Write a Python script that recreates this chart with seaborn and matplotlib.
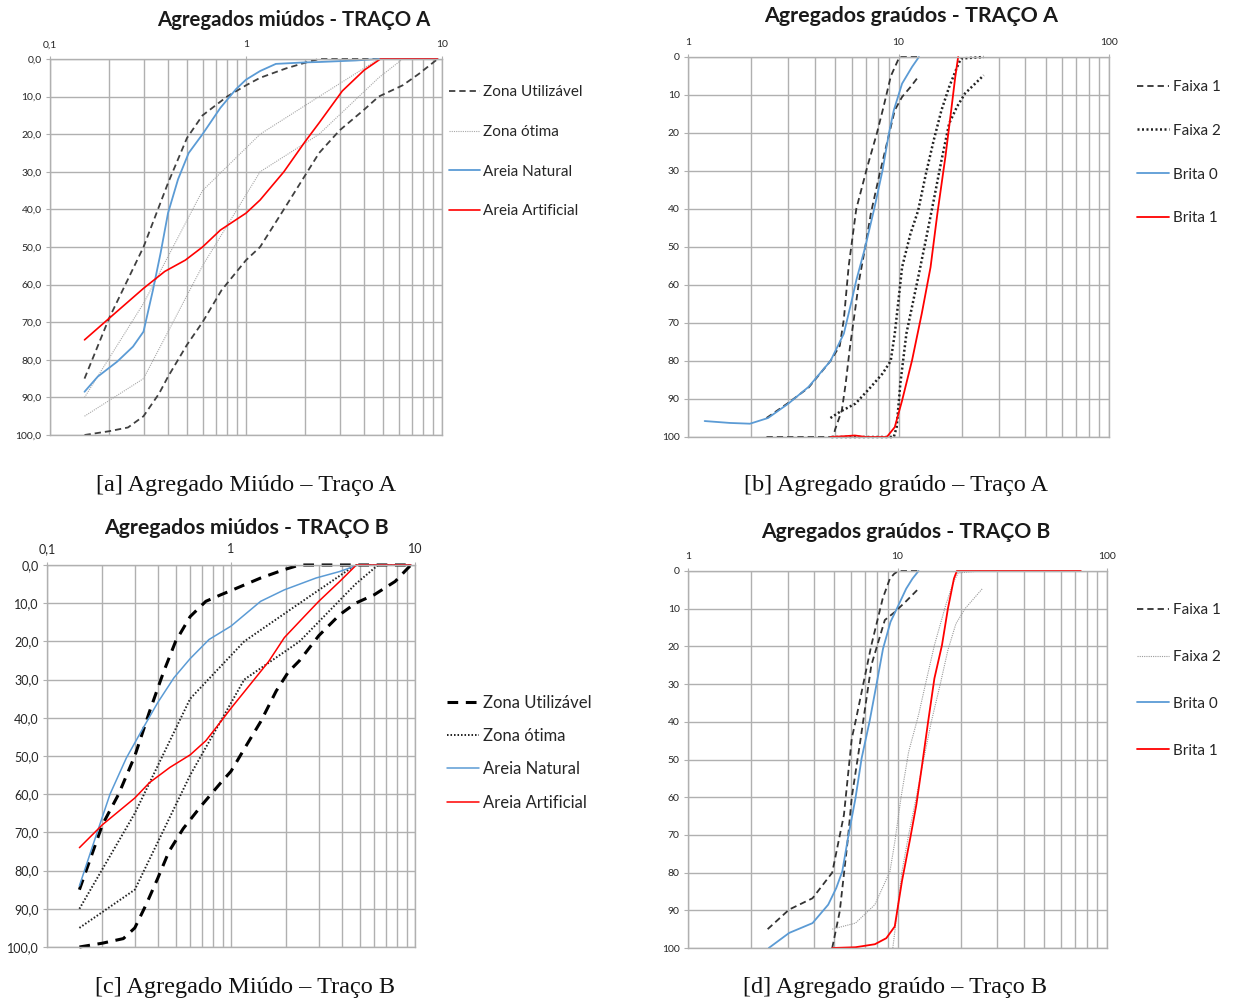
import numpy as np
import pandas as pd
import matplotlib
matplotlib.use("Agg")
import matplotlib.pyplot as plt
from matplotlib.ticker import FixedLocator, FixedFormatter, NullFormatter
import seaborn as sns

# ---------------- DATA ----------------
# Sieve openings (mm) - fine aggregate limits NBR 7211
SIEVES_F = [0.15, 0.3, 0.6, 1.18, 2.36, 4.75, 6.3, 9.5]
OTIMA_SUP = [90, 65, 35, 20, 10, 0, 0, 0]
OTIMA_INF = [95, 85, 55, 30, 20, 5, 0, 0]

# Traço A - miúdos
A_UTIL_INF_X = [0.15, 0.2, 0.3, 0.4, 0.5, 0.6, 0.8, 1.0, 1.18, 1.6, 2.0, 2.36, 4.75, 6.3, 9.5]
A_UTIL_INF_Y = [85, 69, 50, 33, 21, 15, 10, 7, 5, 2.5, 1, 0, 0, 0, 0]
A_UTIL_SUP_X = [0.15, 0.2, 0.25, 0.3, 0.36, 0.4, 0.5, 0.6, 0.75, 1.0, 1.18, 1.56, 2.0, 2.36, 3.0, 4.0, 4.75, 6.3, 7.6, 9.5]
A_UTIL_SUP_Y = [100, 99, 98, 95, 89, 84.5, 76, 70, 61.5, 53.5, 50, 40, 31, 25, 19, 13.5, 10, 7, 4, 0]
A_NAT_X = [0.15, 0.175, 0.22, 0.265, 0.3, 0.335, 0.367, 0.4, 0.45, 0.51, 0.6, 0.74, 0.89, 1.0, 1.18, 1.42, 2.0, 2.36, 3.6, 4.75, 6.3, 9.5]
A_NAT_Y = [88.5, 84.5, 80.5, 76.5, 72.5, 61.5, 51.5, 41, 32, 25, 20, 13, 8, 5.5, 3.2, 1.3, 0.9, 0.8, 0.4, 0, 0, 0]
A_ART_X = [0.15, 0.2, 0.3, 0.385, 0.49, 0.6, 0.74, 1.0, 1.18, 1.56, 2.0, 2.36, 3.1, 4.0, 4.85, 6.3, 9.5]
A_ART_Y = [74.7, 69, 61, 56.5, 53.5, 50, 45.5, 41, 37.5, 30, 22, 17, 8.5, 3, 0, 0, 0]

# Traço B - miúdos
B_UTIL_INF_X = [0.15, 0.2, 0.245, 0.3, 0.36, 0.43, 0.5, 0.6, 0.73, 0.88, 1.0, 1.45, 1.95, 2.36, 4.75, 6.3, 9.5]
B_UTIL_INF_Y = [85, 68, 60, 50, 38.5, 28, 20, 13.5, 9.5, 7.8, 6.7, 3.4, 1.2, 0, 0, 0, 0]
B_UTIL_SUP_X = [0.15, 0.2, 0.26, 0.3, 0.345, 0.4, 0.46, 0.55, 0.69, 0.88, 1.0, 1.22, 1.45, 1.76, 2.05, 2.36, 3.0, 3.9, 4.75, 6.0, 7.8, 9.5]
B_UTIL_SUP_Y = [100, 99, 97.8, 95, 89, 82, 75, 69, 63, 57, 54, 47, 41, 33, 28, 25, 18.5, 13, 10, 7.8, 4.3, 0]
B_NAT_X = [0.15, 0.18, 0.22, 0.27, 0.33, 0.4, 0.49, 0.6, 0.76, 1.0, 1.45, 1.95, 2.9, 3.9, 4.9, 6.3, 9.5]
B_NAT_Y = [84, 72.5, 60, 50.5, 43, 36, 29.5, 24.5, 19.5, 16, 9.5, 6.5, 3.4, 1.7, 0, 0, 0]
B_ART_X = [0.15, 0.2, 0.3, 0.36, 0.465, 0.6, 0.73, 0.88, 1.0, 1.31, 1.6, 1.95, 2.5, 3.0, 3.9, 4.8, 6.3, 9.5]
B_ART_Y = [74, 68, 61, 57, 53, 49.7, 46, 41, 37.5, 30.5, 25.3, 19, 13.5, 9.5, 4.3, 0, 0, 0]

# Traço A - graúdos
GA_F1_INF_X = [2.36, 3.0, 3.74, 4.75, 5.26, 5.5, 5.8, 6.3, 7.1, 7.9, 8.5, 9.2, 10.1, 12.5]
GA_F1_INF_Y = [95, 91, 87, 80, 76, 69, 55, 40, 29, 20, 13, 5, 0, 0]
GA_F1_SUP_X = [2.36, 4.9, 5.0, 5.38, 5.61, 5.86, 6.0, 6.25, 6.5, 6.95, 7.4, 8.07, 8.8, 9.6, 10.4, 11.4, 12.5]
GA_F1_SUP_Y = [100, 100, 98, 93, 86, 77, 72.8, 65.8, 58.8, 50, 41, 31.6, 22.8, 14, 10.5, 7.9, 5]
GA_F2_INF_X = [4.75, 5.26, 6.25, 7.4, 8.4, 9.18, 9.6, 10.0, 10.4, 11.4, 12.4, 13.5, 14.7, 16.0, 17.4, 19.0, 19.8, 25.4]
GA_F2_INF_Y = [95, 93.4, 91.2, 86.8, 83.3, 80, 72.8, 64, 55.3, 46.5, 40.4, 30.7, 21.9, 14, 7.9, 2.6, 0.4, 0]
GA_F2_SUP_X = [4.8, 9.5, 9.8, 10.2, 10.9, 12.4, 13.5, 14.7, 16.0, 17.4, 19.0, 20.7, 25.4]
GA_F2_SUP_Y = [100, 100, 97.4, 86, 72.8, 58, 48, 37.7, 27.2, 17.5, 13, 9.6, 4.8]
GA_B0_X = [1.2, 1.58, 1.97, 2.4, 3.0, 3.74, 4.75, 5.5, 6.0, 6.3, 6.95, 7.7, 8.4, 9.0, 9.5, 10.4, 11.6, 12.5]
GA_B0_Y = [95.8, 96.3, 96.5, 95, 91.2, 86.8, 80, 72.8, 64, 58.8, 50, 39.5, 29.8, 20.2, 14, 7, 2.6, 0]
GA_B1_X = [4.75, 5.5, 6.2, 7.0, 8.0, 8.8, 9.6, 10.4, 11.6, 12.9, 14.2, 15.3, 16.7, 17.8, 18.6, 19.2]
GA_B1_Y = [100, 99.8, 99.6, 100, 100, 100, 97.4, 90.4, 79.8, 67.5, 55.3, 41.2, 26.3, 14, 5.3, 0]

# Traço B - graúdos
GB_F1_INF_X = [2.4, 3.04, 3.93, 4.88, 5.55, 6.05, 6.3, 6.9, 7.5, 8.5, 9.2, 9.66, 10.1, 12.6]
GB_F1_INF_Y = [95, 89.8, 86.8, 80, 64.7, 44.4, 40, 29.4, 19.7, 7.3, 2, 0.7, 0, 0]
GB_F1_SUP_X = [4.88, 5.3, 5.8, 6.05, 6.6, 7.5, 8.7, 9.65, 11.0, 12.6]
GB_F1_SUP_Y = [100, 90.3, 70.9, 60, 46.2, 25, 13, 11, 8, 4.7]
GB_F2_INF_X = [4.88, 6.3, 7.8, 9.2, 9.7, 10.4, 11.3, 12.6, 13.6, 15.0, 17.0, 18.5, 19.5, 25.0]
GB_F2_INF_Y = [95, 93.4, 88.5, 79.7, 72, 60, 48, 38.2, 30, 19.7, 9, 2.9, 0.5, 0]
GB_F2_SUP_X = [9.5, 10.5, 11.3, 12.3, 13.1, 14.5, 16.0, 17.4, 19.0, 21.0, 25.4]
GB_F2_SUP_Y = [100, 79.7, 70, 60, 52, 40, 30, 21, 14, 10, 4.7]
GB_B0_X = [2.43, 3.04, 3.93, 4.67, 5.1, 5.45, 5.8, 6.3, 6.74, 7.35, 7.98, 8.53, 9.26, 10.1, 11.0, 11.8, 12.6]
GB_B0_Y = [100, 96, 93.4, 88.5, 84.1, 79.7, 70.9, 60.3, 49.7, 40, 29.4, 20.6, 13.5, 9.1, 4.7, 2, 0]
GB_B1_X = [4.88, 6.3, 7.8, 8.84, 9.7, 10.5, 11.5, 12.3, 13.1, 14.0, 15.0, 16.3, 17.4, 18.6, 19.2, 25, 37.5, 50, 75]
GB_B1_Y = [100, 99.8, 99, 97.4, 94.3, 82.3, 70.9, 62, 51.5, 40, 28.5, 19.7, 10, 2, 0, 0, 0, 0, 0]

TITLES = ["Agregados miúdos - TRAÇO A", "Agregados graúdos - TRAÇO A",
          "Agregados miúdos - TRAÇO B", "Agregados graúdos - TRAÇO B"]
CAPTIONS = ["[a] Agregado Miúdo – Traço A", "[b] Agregado graúdo – Traço A",
            "[c] Agregado Miúdo – Traço B", "[d] Agregado graúdo – Traço B"]
XT_FINE = ["0,1", "1", "10"]
XT_COARSE = ["1", "10", "100"]
YT_FINE = [f"{v},0" for v in range(0, 101, 10)]
YT_COARSE = [str(v) for v in range(0, 101, 10)]

# ---------------- STYLE ----------------
sns.set_theme(style="white")
plt.rcParams['font.family'] = ['Lato', 'DejaVu Sans']

W, H = 1233, 1001
fig = plt.figure(figsize=(W / 100, H / 100), dpi=100)
GRID = '#b0b0b0'
BLUE = '#5b9bd5'
RED = '#ff0000'
TXT = '#262626'


def add_ax(l, t, r, b):
    return fig.add_axes([l / W, 1 - b / H, (r - l) / W, (b - t) / H])


def line(ax, x, y, label=None, **kw):
    sns.lineplot(x=x, y=y, ax=ax, sort=False, estimator=None, errorbar=None,
                 label=label if label else "_nolegend_", clip_on=False, **kw)


def setup(ax, xmin, xlabels, ylabels, fs):
    ax.set_xscale('log')
    ax.set_xlim(xmin, xmin * 100)
    ax.set_ylim(100, 0)
    majors = [xmin, xmin * 10, xmin * 100]
    minors = [d * m for d in (xmin, xmin * 10) for m in range(2, 10)]
    ax.xaxis.set_major_locator(FixedLocator(majors))
    ax.xaxis.set_major_formatter(FixedFormatter(xlabels))
    ax.xaxis.set_minor_locator(FixedLocator(minors))
    ax.xaxis.set_minor_formatter(NullFormatter())
    ax.xaxis.tick_top()
    ax.yaxis.set_major_locator(FixedLocator(list(range(0, 101, 10))))
    ax.yaxis.set_major_formatter(FixedFormatter(ylabels))
    ax.set_xlabel("")
    ax.set_ylabel("")
    ax.set_axisbelow(True)
    ax.grid(True, which='both', axis='x', color=GRID, lw=1.0)
    ax.grid(True, which='major', axis='y', color=GRID, lw=1.0)
    ax.tick_params(axis='x', which='major', top=True, bottom=False, length=2,
                   width=0.8, color=GRID, pad=5, labelsize=fs, labelcolor=TXT)
    ax.tick_params(axis='x', which='minor', length=0, top=False, bottom=False)
    ax.tick_params(axis='y', which='major', left=True, length=3, width=0.8,
                   color=GRID, pad=3, labelsize=fs, labelcolor=TXT)
    for s in ax.spines.values():
        s.set_color(GRID)
        s.set_linewidth(1.0)


def legend(ax, x, y, fs, spacing, hl):
    h, l = ax.get_legend_handles_labels()
    ax.legend(h, l, loc='upper left', bbox_to_anchor=(x / W, 1 - y / H),
              bbox_transform=fig.transFigure, frameon=False, fontsize=fs,
              borderpad=0, borderaxespad=0, handlelength=hl, handletextpad=0.25,
              labelspacing=spacing, labelcolor=TXT)


# ---------- Panel a ----------
ax = add_ax(50, 59, 442, 435)
dA = dict(color='#404040', lw=1.3, linestyle=(0, (3.5, 2.2)))
oA = dict(color='#a8a8a8', lw=0.8, linestyle=(0, (1, 1)))
line(ax, A_UTIL_INF_X, A_UTIL_INF_Y, "Zona Utilizável", **dA)
line(ax, A_UTIL_SUP_X, A_UTIL_SUP_Y, **dA)
line(ax, SIEVES_F, OTIMA_SUP, "Zona ótima", **oA)
line(ax, SIEVES_F, OTIMA_INF, **oA)
line(ax, A_NAT_X, A_NAT_Y, "Areia Natural", color=BLUE, lw=1.3)
line(ax, A_ART_X, A_ART_Y, "Areia Artificial", color=RED, lw=1.2)
setup(ax, 0.1, XT_FINE, YT_FINE, 7.5)
legend(ax, 449, 85.5, 11, 1.68, 2.0)

# ---------- Panel b ----------
ax = add_ax(688, 57, 1109, 437)
f1 = dict(color='#333333', lw=1.3, linestyle=(0, (3.5, 2.2)))
f2A = dict(color='#222222', lw=1.8, linestyle=(0, (0.8, 1.0)))
line(ax, GA_F1_INF_X, GA_F1_INF_Y, "Faixa 1", **f1)
line(ax, GA_F1_SUP_X, GA_F1_SUP_Y, **f1)
line(ax, GA_F2_INF_X, GA_F2_INF_Y, "Faixa 2", **f2A)
line(ax, GA_F2_SUP_X, GA_F2_SUP_Y, **f2A)
line(ax, GA_B0_X, GA_B0_Y, "Brita 0", color=BLUE, lw=1.3)
line(ax, GA_B1_X, GA_B1_Y, "Brita 1", color=RED, lw=1.3)
setup(ax, 1, XT_COARSE, YT_COARSE, 7.5)
legend(ax, 1137, 80, 11, 1.95, 2.1)

# ---------- Panel c ----------
ax = add_ax(47, 565, 415, 947)
dB = dict(color='black', lw=2.2, linestyle=(0, (3.5, 2.5)))
oB = dict(color='#222222', lw=1.4, linestyle=(0, (0.8, 1.0)))
line(ax, B_UTIL_INF_X, B_UTIL_INF_Y, "Zona Utilizável", **dB)
line(ax, B_UTIL_SUP_X, B_UTIL_SUP_Y, **dB)
line(ax, SIEVES_F, OTIMA_SUP, "Zona ótima", **oB)
line(ax, SIEVES_F, OTIMA_INF, **oB)
line(ax, B_NAT_X, B_NAT_Y, "Areia Natural", color=BLUE, lw=1.1)
line(ax, B_ART_X, B_ART_Y, "Areia Artificial", color=RED, lw=1.1)
setup(ax, 0.1, XT_FINE, YT_FINE, 9)
legend(ax, 447, 694.5, 12, 1.04, 1.9)

# ---------- Panel d ----------
ax = add_ax(688, 571, 1107, 948)
f2B = dict(color='#9a9a9a', lw=0.8, linestyle=(0, (1, 1)))
line(ax, GB_F1_INF_X, GB_F1_INF_Y, "Faixa 1", **f1)
line(ax, GB_F1_SUP_X, GB_F1_SUP_Y, **f1)
line(ax, GB_F2_INF_X, GB_F2_INF_Y, "Faixa 2", **f2B)
line(ax, GB_F2_SUP_X, GB_F2_SUP_Y, **f2B)
line(ax, GB_B0_X, GB_B0_Y, "Brita 0", color=BLUE, lw=1.3)
line(ax, GB_B1_X, GB_B1_Y, "Brita 1", color=RED, lw=1.3)
setup(ax, 1, XT_COARSE, YT_COARSE, 7.5)
legend(ax, 1137, 603, 11, 2.15, 2.1)

# ---------- titles and captions ----------
title_pos = [(294, 20, 14.7), (911, 16, 15.4), (246, 528, 15.3), (906, 532, 15.2)]
for t, (x, y, fs) in zip(TITLES, title_pos):
    fig.text(x / W, 1 - y / H, t, ha='center', va='center', fontsize=fs,
             fontweight='bold', color='#1a1a1a')
cap_pos = [(246, 485), (896, 485), (245, 987), (895, 987)]
for c, (x, y) in zip(CAPTIONS, cap_pos):
    fig.text(x / W, 1 - y / H, c, ha='center', va='center', fontsize=17.5,
             family='Liberation Serif', color='#111111')

fig.savefig("out.png", dpi=100)
